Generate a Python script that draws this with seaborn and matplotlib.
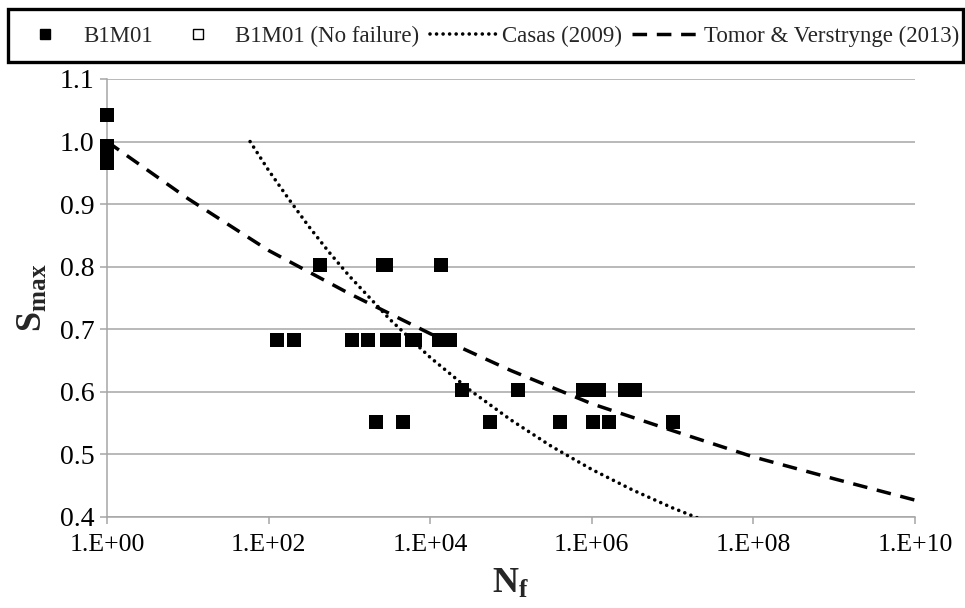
import matplotlib
matplotlib.use("Agg")
import matplotlib.pyplot as plt
from matplotlib.lines import Line2D
from matplotlib.patches import Rectangle
from matplotlib.ticker import FixedLocator, NullLocator, FuncFormatter
import pandas as pd
import seaborn as sns

# B1M01 fatigue tests: cycles to failure (N_f) and maximum stress level (S_max)
b1m01_n = [1, 1, 1, 1, 1,
           437, 2610, 2840, 13700,
           128, 208, 1090, 1710, 2920, 3530, 6010, 6540, 13000, 17700,
           24900, 123000, 783000, 984000, 1.24e6, 2.59e6, 3.44e6,
           2150, 4650, 55300, 406000, 1.04e6, 1.64e6, 1.02e7]
b1m01_s = [1.042, 0.993, 0.984, 0.975, 0.966,
           0.803, 0.803, 0.803, 0.803,
           0.683, 0.683, 0.683, 0.683, 0.683, 0.683, 0.683, 0.683, 0.683, 0.683,
           0.603, 0.603, 0.603, 0.603, 0.603, 0.603, 0.603,
           0.552, 0.552, 0.552, 0.552, 0.552, 0.552, 0.552]

# run-out specimens (none in this series)
runout_n = []
runout_s = []

# Casas (2009) S-N curve
casas_n = [59, 100, 178, 316, 562, 1e3, 3160, 1e4, 3.16e4, 1e5, 3.16e5,
           1e6, 3.16e6, 1e7, 2e7]
casas_s = [1.0, 0.954, 0.908, 0.864, 0.823, 0.785, 0.716, 0.655, 0.602,
           0.555, 0.513, 0.476, 0.4435, 0.4145, 0.399]

# Tomor & Verstrynge (2013) S-N curve
tomor_n = [1, 1e1, 1e2, 1e3, 1e4, 1e5, 1e6, 1e7, 1e8, 1e9, 1e10]
tomor_s = [1.0, 0.909, 0.826, 0.757, 0.693, 0.634, 0.581, 0.538, 0.496, 0.461, 0.427]

legend_labels = ["B1M01", "B1M01 (No failure)", "Casas (2009)",
                 "Tomor & Verstrynge (2013)"]
y_ticks = [0.4, 0.5, 0.6, 0.7, 0.8, 0.9, 1.0, 1.1]
x_ticks = [1, 1e2, 1e4, 1e6, 1e8, 1e10]
x_tick_labels = ["1.E+00", "1.E+02", "1.E+04", "1.E+06", "1.E+08", "1.E+10"]

sns.set_theme(style="white")
plt.rcParams["font.family"] = ["Liberation Serif", "DejaVu Serif"]
plt.rcParams["mathtext.fontset"] = "custom"
plt.rcParams["mathtext.rm"] = "Liberation Serif"
plt.rcParams["mathtext.bf"] = "Liberation Serif:bold"
plt.rcParams["mathtext.it"] = "Liberation Serif:italic"

GRAY = "#a6a6a6"
DOTTED = (0, (0.01, 1.8))
DASHED = (0, (4.2, 2.8))

fig = plt.figure(figsize=(9.65, 6.08), dpi=100)
ax = fig.add_axes([107 / 965, 1 - 517 / 608, 808 / 965, 438 / 608])
ax.set_xscale("log")

tests = pd.DataFrame({"N": b1m01_n, "S": b1m01_s})
casas = pd.DataFrame({"N": casas_n, "S": casas_s})
tomor = pd.DataFrame({"N": tomor_n, "S": tomor_s})

sns.lineplot(data=casas, x="N", y="S", ax=ax, color="black", lw=2.6,
             sort=False, estimator=None, zorder=3)
ax.lines[-1].set_linestyle(DOTTED)
ax.lines[-1].set_dash_capstyle("round")

sns.lineplot(data=tomor, x="N", y="S", ax=ax, color="black", lw=2.5,
             sort=False, estimator=None, zorder=3)
ax.lines[-1].set_linestyle(DASHED)

sns.scatterplot(data=tests, x="N", y="S", ax=ax, marker="s", s=95,
                color="black", edgecolor="black", linewidth=0, zorder=4)
for coll in ax.collections:
    coll.set_clip_on(False)

if runout_n:
    sns.scatterplot(x=runout_n, y=runout_s, ax=ax, marker="s", s=95,
                    facecolor="white", edgecolor="black", zorder=4)

ax.set_xlim(1, 1e10)
ax.set_ylim(0.4, 1.1)
ax.xaxis.set_major_locator(FixedLocator(x_ticks))
ax.xaxis.set_minor_locator(NullLocator())
ax.set_xticklabels(x_tick_labels)
ax.set_yticks(y_ticks)
ax.yaxis.set_major_formatter(FuncFormatter(lambda v, p: f"{v:.1f}"))

ax.grid(axis="y", color=GRAY, lw=1.1)
ax.grid(axis="x", visible=False)
for side in ("top", "right"):
    ax.spines[side].set_visible(False)
for side in ("left", "bottom"):
    ax.spines[side].set_color(GRAY)
    ax.spines[side].set_linewidth(1.1)
ax.tick_params(axis="both", which="major", direction="out", length=5,
               width=1.1, color=GRAY, labelcolor="black")
ax.tick_params(axis="x", labelsize=18.5, pad=7)
ax.tick_params(axis="y", labelsize=20, pad=4)
ax.tick_params(left=True, bottom=True)

ax.set_xlabel(r"$\mathbf{N_f}$", fontsize=26, labelpad=9)
ax.set_ylabel(r"$\mathbf{S_{max}}$", fontsize=26, labelpad=7)

# legend box across the top of the figure
fig.patches.append(Rectangle((8 / 965, 1 - 62 / 608), 955 / 965, 53 / 608,
                             transform=fig.transFigure, fill=True,
                             facecolor="white", edgecolor="black", lw=2.4,
                             zorder=0))
handles = [
    Line2D([], [], ls="none", marker="s", ms=7, color="black"),
    Line2D([], [], ls="none", marker="s", ms=7, markerfacecolor="white",
           markeredgecolor="black", markeredgewidth=1.0),
    Line2D([], [], color="black", lw=2.6, ls=DOTTED, dash_capstyle="round"),
    Line2D([], [], color="black", lw=2.5, ls=DASHED),
]
fig.legend(handles, legend_labels, loc="center", ncol=4,
           bbox_to_anchor=(0.503, 1 - 36 / 608), frameon=False, fontsize=16.5,
           handlelength=3.0, handletextpad=0.15, columnspacing=0.45,
           borderaxespad=0)

fig.savefig("out.png", dpi=100)
